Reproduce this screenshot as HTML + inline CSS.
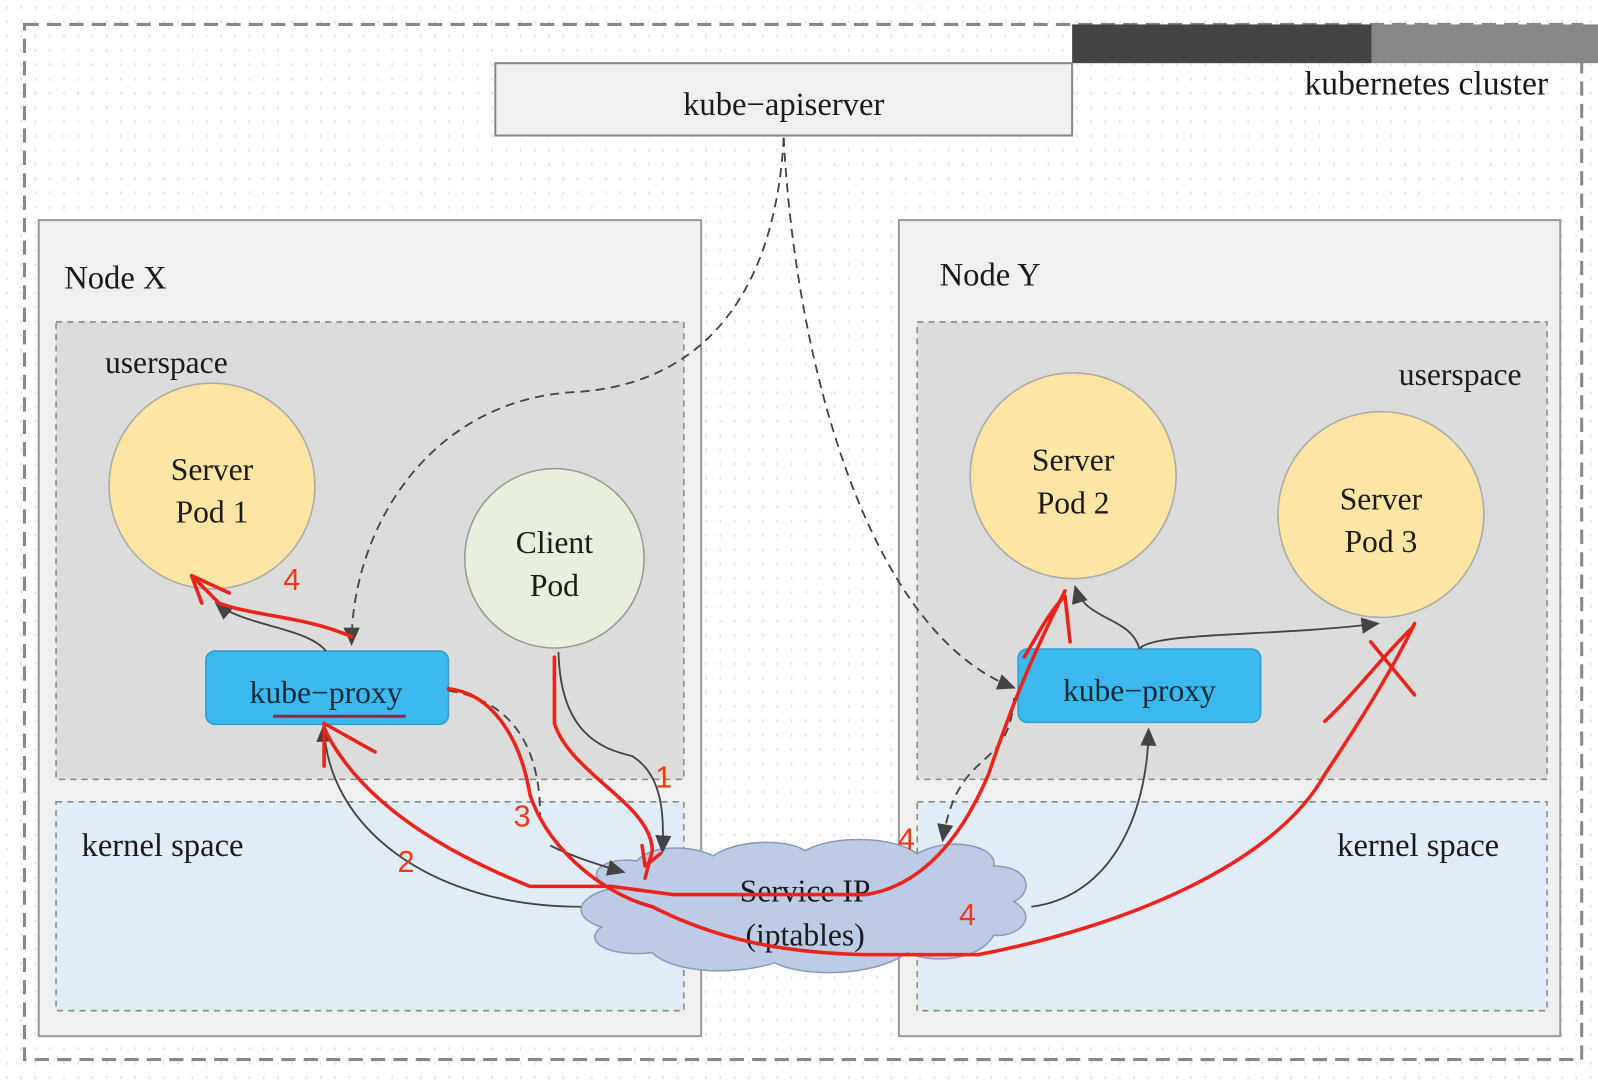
<!DOCTYPE html>
<html><head><meta charset="utf-8"><style>
html,body{margin:0;padding:0;background:#fff;}
svg{display:block;}
text{font-family:"Liberation Serif",serif;fill:#1a1a1a;}
.r{font-family:"Liberation Sans",sans-serif;fill:#f03a17;font-size:30px;}
</style></head><body>
<svg width="1598" height="1082" viewBox="0 0 1568 1062" preserveAspectRatio="none" xmlns="http://www.w3.org/2000/svg">
<defs>
<pattern id="g" width="14" height="14" patternUnits="userSpaceOnUse"><rect x="6" y="6" width="1.5" height="3" fill="#dde3ec"/></pattern>
<marker id="A" markerWidth="18" markerHeight="16" refX="16" refY="8" orient="auto" markerUnits="userSpaceOnUse" viewBox="0 0 18 16"><path d="M0,0 L18,8 L0,16 z" fill="#444"/></marker>
</defs>
<rect width="1568" height="1062" fill="url(#g)"/>
<rect x="24" y="24" width="1528" height="1016" fill="none" stroke="#888" stroke-width="3" stroke-dasharray="14,8"/>
<rect x="1052" y="24" width="294" height="38" fill="#444"/>
<rect x="1346" y="24" width="222" height="38" fill="#888"/>
<text x="1280" y="93" font-size="33">kubernetes cluster</text>
<rect x="486" y="62" width="566" height="71" fill="#f0f0ee" stroke="#888" stroke-width="2"/>
<text x="769" y="113" font-size="32" text-anchor="middle">kube−apiserver</text>

<rect x="38" y="216" width="650" height="801" fill="#f0f0ee" stroke="#999" stroke-width="2"/>
<text x="63" y="283" font-size="32">Node X</text>
<rect x="55" y="316" width="616" height="449" fill="#dcdcda" stroke="#888" stroke-width="1.5" stroke-dasharray="6,5"/>
<text x="103" y="366" font-size="31">userspace</text>
<rect x="55" y="787" width="616" height="205" fill="#e2ecf6" stroke="#888" stroke-width="1.5" stroke-dasharray="6,5"/>
<text x="80" y="840" font-size="32">kernel space</text>

<rect x="882" y="216" width="649" height="801" fill="#f0f0ee" stroke="#999" stroke-width="2"/>
<text x="922" y="280" font-size="32">Node Y</text>
<rect x="900" y="316" width="618" height="449" fill="#dcdcda" stroke="#888" stroke-width="1.5" stroke-dasharray="6,5"/>
<text x="1493" y="378" font-size="31" text-anchor="end">userspace</text>
<rect x="900" y="787" width="618" height="205" fill="#e2ecf6" stroke="#888" stroke-width="1.5" stroke-dasharray="6,5"/>
<text x="1471" y="840" font-size="32" text-anchor="end">kernel space</text>

<circle cx="208" cy="477" r="101" fill="#fde6a3" stroke="#aaa" stroke-width="1.5"/>
<text x="208" y="471" font-size="31" text-anchor="middle">Server</text>
<text x="208" y="513" font-size="31" text-anchor="middle">Pod 1</text>
<circle cx="544" cy="548" r="88" fill="#e6f0dc" stroke="#999" stroke-width="1.5"/>
<text x="544" y="543" font-size="31" text-anchor="middle">Client</text>
<text x="544" y="585" font-size="31" text-anchor="middle">Pod</text>
<circle cx="1053" cy="467" r="101" fill="#fde6a3" stroke="#aaa" stroke-width="1.5"/>
<text x="1053" y="462" font-size="31" text-anchor="middle">Server</text>
<text x="1053" y="504" font-size="31" text-anchor="middle">Pod 2</text>
<circle cx="1355" cy="505" r="101" fill="#fde6a3" stroke="#aaa" stroke-width="1.5"/>
<text x="1355" y="500" font-size="31" text-anchor="middle">Server</text>
<text x="1355" y="542" font-size="31" text-anchor="middle">Pod 3</text>

<rect x="202" y="639" width="238" height="72" rx="9" fill="#3bb9ec" stroke="#2c9fce" stroke-width="1.5"/>
<text x="320" y="690" font-size="31" text-anchor="middle" style="fill:#0d2a3a">kube−proxy</text>
<line x1="268" y1="703" x2="398" y2="703" stroke="#8a2a4a" stroke-width="3"/>
<rect x="999" y="637" width="238" height="72" rx="9" fill="#3bb9ec" stroke="#2c9fce" stroke-width="1.5"/>
<text x="1118" y="688" font-size="31" text-anchor="middle" style="fill:#0d2a3a">kube−proxy</text>

<g fill="#bccbe6" stroke="#8a9bb8" stroke-width="1.5">
<path d="M600,872 C570,860 590,840 625,845 C640,828 680,830 700,840 C720,825 770,822 790,835 C820,818 880,822 900,838 C930,820 980,830 975,850 C1010,850 1015,875 995,885 C1020,900 1000,920 975,918 C960,945 910,945 890,935 C860,958 790,960 760,945 C720,958 660,955 640,935 C600,940 570,925 590,910 C560,900 565,880 600,872 Z"/>
</g>
<text x="790" y="885" font-size="31" text-anchor="middle">Service IP</text>
<text x="790" y="928" font-size="31" text-anchor="middle">(iptables)</text>

<g fill="none" stroke="#444" stroke-width="1.8">
<path d="M769,135 C760,300 680,380 560,385 C420,395 345,520 345,632" stroke-dasharray="9,6" marker-end="url(#A)"/>
<path d="M769,135 C780,350 850,620 995,675" stroke-dasharray="9,6" marker-end="url(#A)"/>
<path d="M995,685 C990,760 940,730 925,825" stroke-dasharray="9,6" marker-end="url(#A)"/>
<path d="M440,678 C520,690 530,760 530,800" stroke-dasharray="9,6"/>
<path d="M548,640 C550,720 590,735 620,742 C650,760 652,800 650,836" marker-end="url(#A)"/>
<path d="M570,890 C420,890 320,810 318,712" marker-end="url(#A)"/>
<path d="M320,639 C300,615 240,615 212,592" marker-end="url(#A)"/>
<path d="M1012,890 C1090,880 1126,800 1127,716" marker-end="url(#A)"/>
<path d="M1118,637 C1110,605 1065,610 1055,576" marker-end="url(#A)"/>
<path d="M1118,637 C1130,620 1250,625 1352,612" marker-end="url(#A)"/>
<path d="M540,830 C560,840 590,850 612,856" marker-end="url(#A)"/>
</g>

<g fill="none" stroke="#e8241c" stroke-width="3.5" stroke-linejoin="round" stroke-linecap="round">
<path d="M544,645 L544,710 C560,760 640,790 640,835 L633,862"/>
<path d="M630,830 L633,850 L648,838"/>
<path d="M318,715 C350,780 420,830 520,870 L600,870 L660,878 L850,878 C900,870 940,830 970,760 C990,700 1010,650 1040,590 L1045,580"/>
<path d="M1005,645 C1020,620 1030,600 1045,585 L1050,630"/>
<path d="M318,752 L318,710 L368,738"/>
<path d="M440,676 C480,680 510,720 520,780 C540,840 600,880 640,890 C700,920 760,935 850,937 L960,937 C1100,910 1250,850 1300,760 C1340,700 1370,650 1388,612"/>
<path d="M1300,708 C1330,680 1360,640 1386,616"/>
<path d="M1345,630 L1388,682"/>
<path d="M345,625 C300,605 250,605 215,592 L188,565 L198,592"/>
<path d="M188,565 L225,582"/>
</g>
<text class="r" x="643" y="773">1</text>
<text class="r" x="390" y="856">2</text>
<text class="r" x="504" y="811">3</text>
<text class="r" x="278" y="579">4</text>
<text class="r" x="881" y="834">4</text>
<text class="r" x="941" y="908">4</text>
</svg>
</body></html>
